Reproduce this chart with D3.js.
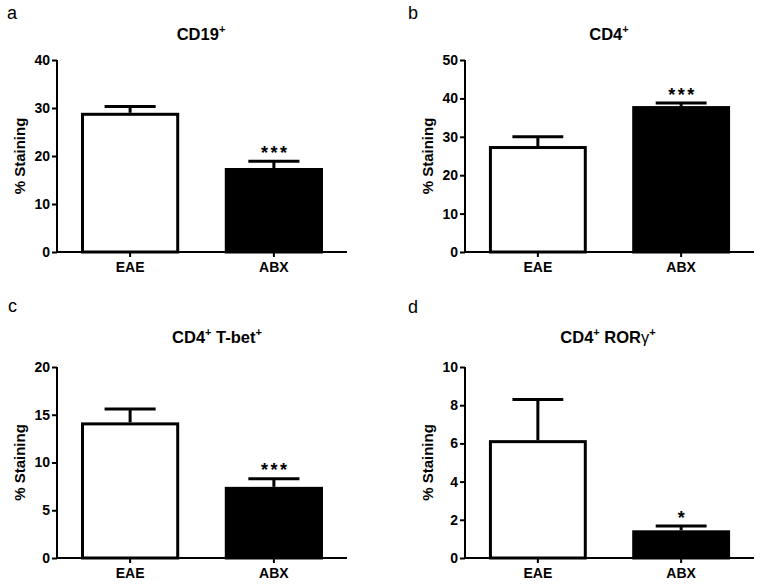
<!DOCTYPE html>
<html><head><meta charset="utf-8">
<script src="https://cdn.jsdelivr.net/npm/d3@7"></script>
<style>body{margin:0;background:#fff}svg{display:block}text{font-family:"Liberation Sans",Arial,sans-serif}</style>
</head><body><svg id="c" width="762" height="585"></svg>
<script>
const panelLetters = ["a","b","c","d"];
const titleParts = [
  [["CD19",false],["+",true]],
  [["CD4",false],["+",true]],
  [["CD4",false],["+",true],[" T-bet",false],["+",true]],
  [["CD4",false],["+",true],[" ROR",false],["\u03b3",false,true],["+",true]]
];
const groups = ["EAE","ABX"];
const meansA = [29.0, 17.5];
const meansB = [27.6, 38.0];
const meansC = [14.2, 7.45];
const meansD = [6.17, 1.45];
const errA = [1.3, 1.4];
const errB = [2.4, 0.8];
const errC = [1.4, 0.85];
const errD = [2.13, 0.22];
const stars = ["***","***","***","*"];
const yMaxes = [40, 50, 20, 10];
const tickSteps = [10, 10, 5, 2];
const yLabel = "% Staining";

const means = [meansA, meansB, meansC, meansD];
const errs = [errA, errB, errC, errD];

// layout
const boxes = [
  {x0:57, x1:347, yTop:60, yZero:252, titleX:201, titleY:40, labX:7, labY:19},
  {x0:465, x1:754, yTop:60, yZero:252, titleX:609, titleY:40, labX:408, labY:19},
  {x0:57, x1:347, yTop:367, yZero:558, titleX:217, titleY:343, labX:8, labY:312},
  {x0:465, x1:754, yTop:367, yZero:558, titleX:608, titleY:343, labX:408, labY:313}
];
const fills = ["#fff","#000"];
const svg = d3.select("#c");

boxes.forEach((b, i) => {
  const g = svg.append("g");
  const x = d3.scaleBand().domain(groups).range([b.x0, b.x1]).paddingInner(0.317).paddingOuter(0.167);
  const y = d3.scaleLinear().domain([0, yMaxes[i]]).range([b.yZero, b.yTop]);
  const data = groups.map((k, j) => ({k, m: means[i][j], e: errs[i][j], f: fills[j]}));

  // bars
  g.selectAll("rect.bar").data(data).join("rect")
    .attr("x", d => x(d.k) + 1.5)
    .attr("width", x.bandwidth() - 3)
    .attr("y", d => y(d.m) + 1.5)
    .attr("height", d => y(0) - y(d.m) - 1.5)
    .attr("fill", d => d.f).attr("stroke", "#000").attr("stroke-width", 3);

  // error bars
  const cw = x.bandwidth() * 0.26;
  data.forEach(d => {
    const cx = x(d.k) + x.bandwidth() / 2;
    g.append("line").attr("x1", cx).attr("x2", cx).attr("y1", y(d.m)).attr("y2", y(d.m + d.e))
      .attr("stroke", "#000").attr("stroke-width", 3);
    g.append("line").attr("x1", cx - cw).attr("x2", cx + cw).attr("y1", y(d.m + d.e)).attr("y2", y(d.m + d.e))
      .attr("stroke", "#000").attr("stroke-width", 3);
  });

  // star
  const d1 = data[1];
  g.append("text").attr("x", x(d1.k) + x.bandwidth() / 2 + 1.25).attr("y", y(d1.m + d1.e) - 2.5)
    .attr("text-anchor", "middle").attr("font-size", 18).attr("font-weight", "bold")
    .attr("letter-spacing", 2.5).text(stars[i]);

  // y axis
  const ticks = d3.range(0, yMaxes[i] + 1e-9, tickSteps[i]);
  const ya = d3.axisLeft(y).tickValues(ticks).tickSize(5).tickPadding(2).tickFormat(d3.format("d"));
  const yg = g.append("g").attr("transform", `translate(${b.x0},0)`).call(ya);
  yg.select(".domain").attr("d", `M0,${y(yMaxes[i])}V${y(0)}`).attr("stroke-width", 2);
  yg.selectAll(".tick line").attr("stroke-width", 2);
  yg.selectAll(".tick text").attr("font-size", 14).attr("font-weight", "bold").attr("fill", "#000")
    .attr("font-family", "Liberation Sans, Arial, sans-serif");

  // x axis
  const xa = d3.axisBottom(x).tickSize(5).tickPadding(5);
  const xg = g.append("g").attr("transform", `translate(0,${b.yZero})`).call(xa);
  xg.select(".domain").attr("d", `M${b.x0},0H${b.x1}`).attr("stroke-width", 2);
  xg.selectAll(".tick line").attr("stroke-width", 2);
  xg.selectAll(".tick text").attr("font-size", 14).attr("font-weight", "bold").attr("fill", "#000")
    .attr("font-family", "Liberation Sans, Arial, sans-serif");

  // y label
  g.append("text").attr("transform", `translate(${b.x0 - 32},${(b.yTop + b.yZero) / 2}) rotate(-90)`)
    .attr("text-anchor", "middle").attr("font-size", 15).attr("font-weight", "bold").text(yLabel);

  // title
  const t = g.append("text").attr("x", b.titleX).attr("y", b.titleY).attr("text-anchor", "middle")
    .attr("font-size", 16.5).attr("font-weight", "bold");
  let raised = false;
  titleParts[i].forEach(([s, sup, normal]) => {
    const ts = t.append("tspan").text(s);
    if (sup) { ts.attr("dy", raised ? 0 : -7).attr("font-size", 11); raised = true; }
    else { ts.attr("dy", raised ? 7 : 0); raised = false; }
    if (normal) ts.attr("font-weight", "normal");
  });

  // panel letter
  g.append("text").attr("x", b.labX).attr("y", b.labY).attr("font-size", 18).text(panelLetters[i]);
});
</script></body></html>
